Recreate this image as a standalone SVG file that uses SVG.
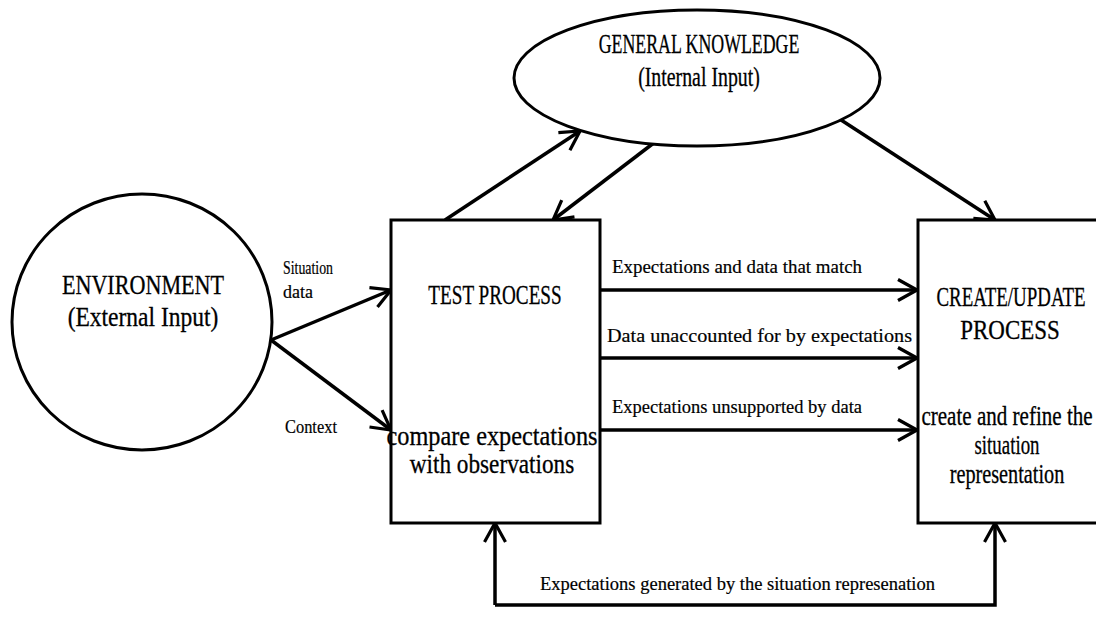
<svg xmlns="http://www.w3.org/2000/svg" width="1096" height="639" viewBox="0 0 1096 639">
  <defs>
    <style>
      .shape { fill: #ffffff; stroke: #000000; stroke-width: 3; }
      .wire { fill: none; stroke: #000000; stroke-width: 3.5; }
      .big { font-family: "Liberation Serif", "Times New Roman", serif; font-size: 27px; fill: #000000; stroke: #000000; stroke-width: 0.3; text-anchor: middle; }
      .small { font-family: "Liberation Serif", "Times New Roman", serif; font-size: 19px; fill: #000000; stroke: #000000; stroke-width: 0.2; }
    </style>
    <marker id="head" viewBox="0 0 24 24" refX="21" refY="12" markerWidth="24" markerHeight="24" markerUnits="userSpaceOnUse" orient="auto">
      <path d="M2,1.5 L21,12 L2,22.5" fill="none" stroke="#000000" stroke-width="3.2"/>
    </marker>
  </defs>
  <rect width="1096" height="639" fill="#ffffff"/>

  <!-- connectors -->
  <g id="connectors">
    <path class="wire" d="M445,220 L580,131" marker-end="url(#head)"/>
    <path class="wire" d="M655,142 L553,220" marker-end="url(#head)"/>
    <path class="wire" d="M838,118 L995,220" marker-end="url(#head)"/>
    <path class="wire" d="M271,340 L391,290" marker-end="url(#head)"/>
    <path class="wire" d="M271,340 L391,430" marker-end="url(#head)"/>
    <path class="wire" d="M600,290 L917,290" marker-end="url(#head)"/>
    <path class="wire" d="M600,358 L917,358" marker-end="url(#head)"/>
    <path class="wire" d="M600,430 L917,430" marker-end="url(#head)"/>
    <path class="wire" d="M495,605 L495,523" marker-end="url(#head)"/>
    <path class="wire" d="M495,605 L995,605 L995,523" marker-end="url(#head)"/>
    <text class="small" x="283" y="274" textLength="50" lengthAdjust="spacingAndGlyphs">Situation</text>
    <text class="small" x="283" y="298" textLength="30" lengthAdjust="spacingAndGlyphs">data</text>
    <text class="small" x="285" y="433" textLength="52" lengthAdjust="spacingAndGlyphs">Context</text>
    <text class="small" x="612" y="273" textLength="250" lengthAdjust="spacingAndGlyphs">Expectations and data that match</text>
    <text class="small" x="607" y="342" textLength="305" lengthAdjust="spacingAndGlyphs">Data unaccounted for by expectations</text>
    <text class="small" x="612" y="413" textLength="250" lengthAdjust="spacingAndGlyphs">Expectations unsupported by data</text>
    <text class="small" x="540" y="590" textLength="395" lengthAdjust="spacingAndGlyphs">Expectations generated by the situation represenation</text>
  </g>

  <!-- node labels use a narrowed Times face: scale(x-factor, 1) -->
  <g id="general-knowledge">
    <ellipse class="shape" cx="697" cy="78" rx="183" ry="68"/>
    <text class="big" transform="translate(699,53) scale(0.66,1)">GENERAL KNOWLEDGE</text>
    <text class="big" transform="translate(699,86) scale(0.735,1)">(Internal Input)</text>
  </g>

  <g id="environment">
    <ellipse class="shape" cx="142" cy="322" rx="130" ry="128"/>
    <text class="big" transform="translate(143,294) scale(0.82,1)">ENVIRONMENT</text>
    <text class="big" transform="translate(143,326) scale(0.87,1)">(External Input)</text>
  </g>

  <g id="test-process">
    <rect class="shape" x="391" y="220" width="209" height="303"/>
    <text class="big" transform="translate(495,304) scale(0.71,1)">TEST PROCESS</text>
    <text class="big" transform="translate(492,445) scale(0.9,1)">compare expectations</text>
    <text class="big" transform="translate(492,473) scale(0.86,1)">with observations</text>
  </g>

  <g id="create-update-process">
    <rect class="shape" x="918" y="220" width="190" height="303"/>
    <text class="big" transform="translate(1011,306) scale(0.7,1)">CREATE/UPDATE</text>
    <text class="big" transform="translate(1010,339) scale(0.85,1)">PROCESS</text>
    <text class="big" transform="translate(1007,425) scale(0.78,1)">create and refine the</text>
    <text class="big" transform="translate(1007,454) scale(0.7,1)">situation</text>
    <text class="big" transform="translate(1007,483) scale(0.75,1)">representation</text>
  </g>
</svg>
